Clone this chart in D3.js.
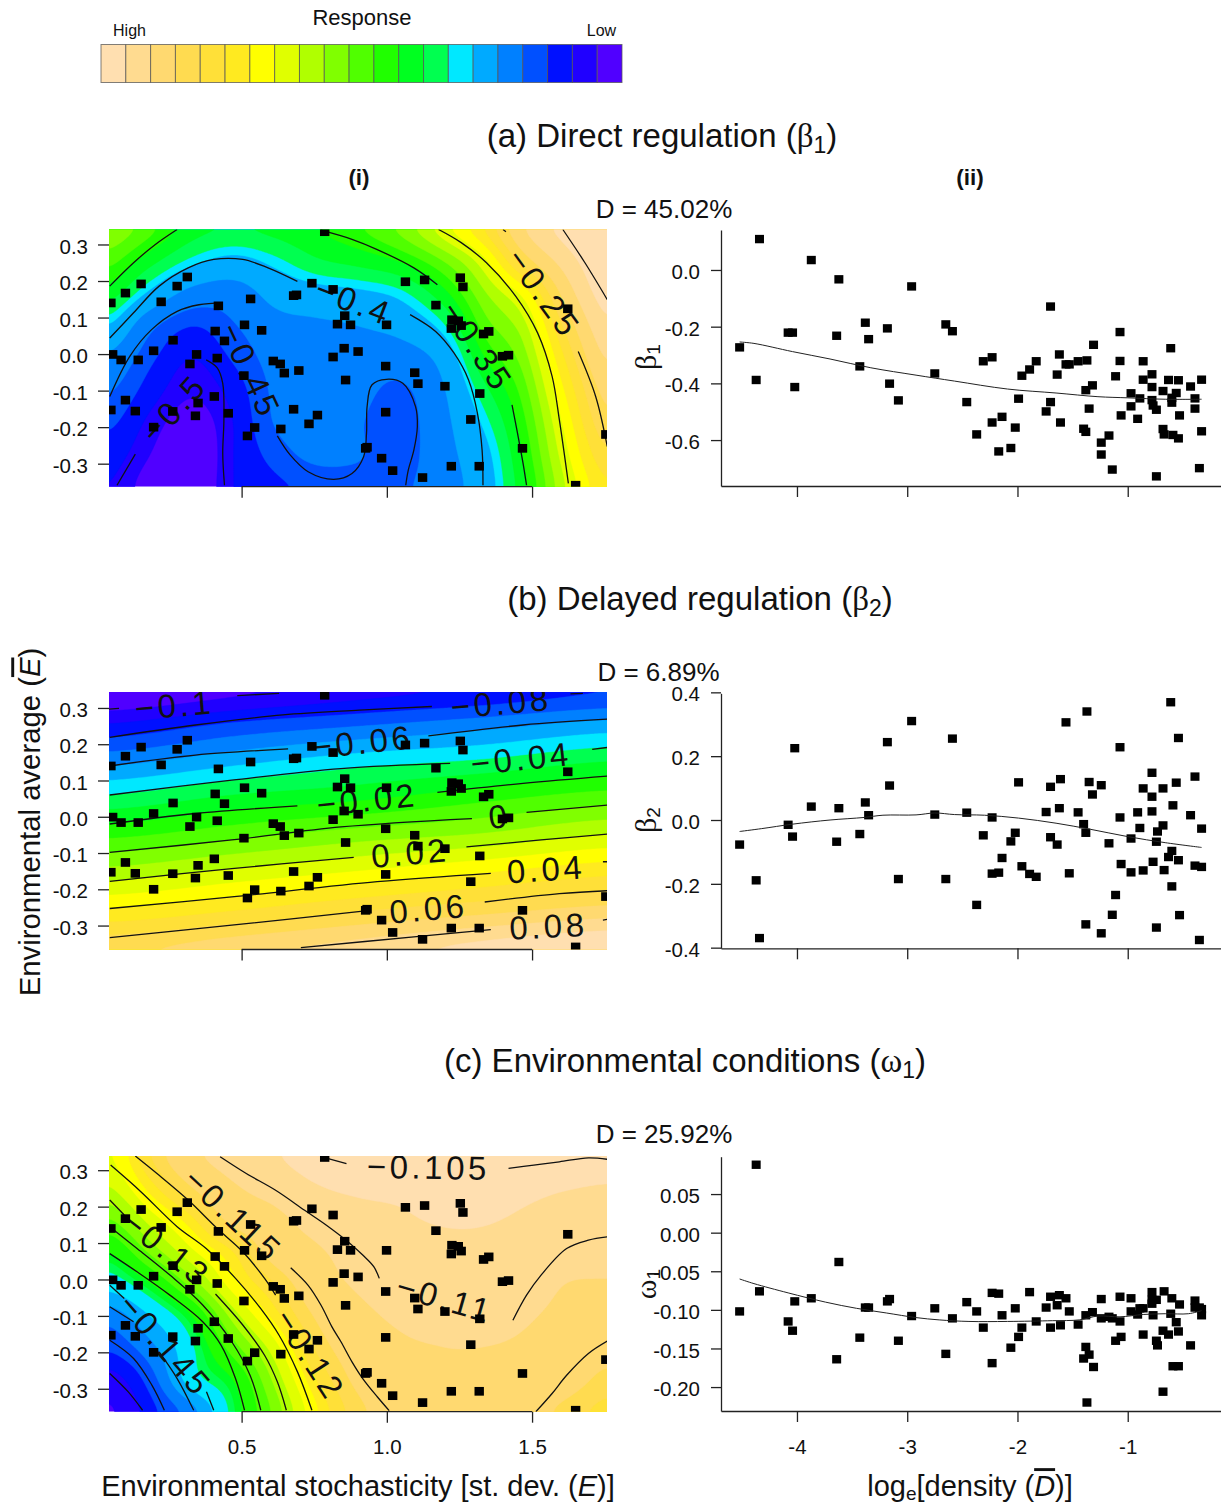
<!DOCTYPE html>
<html><head><meta charset="utf-8">
<script src="https://cdn.jsdelivr.net/npm/d3@7"></script>
<style>
html,body{margin:0;padding:0;background:#fff}
svg{display:block;font-family:"Liberation Sans",Arial,sans-serif;fill:#111}
</style></head><body><svg id="c" width="1221" height="1506"></svg>
<script>
// ---------- legend ----------
const palette=["#FFDFB0","#FFDB90","#FFD970","#FFDB50","#FFE038","#FFEA20","#FFFF00","#E0FF00","#B0FF00","#80FF00","#50FF00","#20FF00","#00FF20","#00FF50","#00E8FF","#00AAFF","#0080FF","#0050FF","#0010FF","#2000FF","#5000FF"];
// ---------- left panels: site coordinates ----------
const envSD=[.05,.10,.154,.223,.278,.313,.42,.409,.264,.197,.056,.085,.144,.345,.322,.416,.441,.51,.531,.569,.609,.633,.647,.697,.508,.679,.689,.742,.815,.855,.83,.875,.999,1.064,1.13,1.253,1.262,1.169,1.224,1.246,1.256,1.222,1.333,1.351,1.623,1.398,1.419,.815,.853,.901,.996,1.096,1.107,.858,1.2,1.32,.406,.35,.454,.10,.05,.134,.263,.341,.197,.679,.761,.732,.635,.545,.52,.996,1.289,.932,.927,.982,1.02,1.123,1.222,1.318,1.467,1.754,1.65,.786];
const envMean=[.14,.167,.192,.143,.186,.211,.132,.063,.038,.009,-.001,-.016,-.016,-.001,-.027,-.011,.036,.08,.151,.065,-.019,-.027,-.052,-.045,-.059,.16,.162,.194,.177,.105,.082,.08,.08,.198,.203,.209,.184,.134,.094,.091,.078,.07,.055,.062,.124,-.006,-.003,-.008,.016,.007,-.033,-.051,-.081,-.071,-.088,-.108,-.116,-.134,-.162,-.126,-.153,-.156,-.157,-.169,-.2,-.151,-.167,-.191,-.205,-.201,-.224,-.159,-.179,-.255,-.258,-.285,-.319,-.338,-.307,-.307,-.258,-.22,-.359,.335];
// ---------- response surfaces ----------
const fieldColsX=[.0434,.186,.329,.471,.614,.757,.900,1.043,1.186,1.329,1.471,1.614,1.758];
const fieldRowsA=[.341,.253,.166,.078,-.010,-.098,-.186,-.274,-.363];
const fieldA=[
[-.318,-.335,-.358,-.365,-.36,-.35,-.34,-.325,-.30,-.27,-.225,-.20,-.178],
[-.335,-.36,-.385,-.398,-.385,-.368,-.36,-.35,-.33,-.30,-.25,-.217,-.19],
[-.357,-.395,-.43,-.435,-.41,-.40,-.395,-.385,-.357,-.32,-.29,-.235,-.198],
[-.39,-.443,-.47,-.452,-.43,-.425,-.42,-.41,-.385,-.335,-.31,-.253,-.21],
[-.425,-.465,-.49,-.467,-.44,-.432,-.432,-.435,-.412,-.352,-.322,-.268,-.222],
[-.447,-.48,-.502,-.482,-.445,-.428,-.44,-.455,-.425,-.372,-.333,-.28,-.235],
[-.465,-.495,-.515,-.49,-.448,-.43,-.447,-.462,-.43,-.388,-.342,-.29,-.245],
[-.48,-.505,-.525,-.49,-.462,-.442,-.447,-.462,-.432,-.40,-.349,-.298,-.258],
[-.49,-.515,-.525,-.49,-.475,-.465,-.46,-.455,-.435,-.405,-.355,-.306,-.27]];
const bandIndexA=[0,3.5,7.5,12,14,15,15.2,16,17,18,19,20,21];
const bandValueA=[-.19,-.25,-.30,-.35,-.38,-.39,-.40,-.42,-.45,-.47,-.49,-.505,-.53];

const fieldColsB=[.0434,.471,.900,1.329,1.758];
const fieldRowsB=[.344,.25,.15,.05,-.05,-.15,-.25,-.366];
const fieldB=[
[-.112,-.103,-.0945,-.0885,-.081],
[-.088,-.077,-.07,-.063,-.055],
[-.0625,-.0525,-.0435,-.038,-.0295],
[-.0375,-.0275,-.0217,-.0125,-.0045],
[-.0125,-.0035,.005,.011,.0205],
[.013,.022,.03,.0385,.0465],
[.039,.0475,.057,.0645,.0715],
[.068,.077,.085,.0945,.102]];
const bandIndexB=[0,21];
const bandValueB=[.10,-.11];

const fieldRowsC=[.339,.253,.166,.078,-.010,-.098,-.186,-.274,-.363];
const fieldC=[
[-.1265,-.119,-.1125,-.1095,-.1075,-.105,-.104,-.1035,-.1035,-.1035,-.104,-.1045,-.105],
[-.129,-.1225,-.1165,-.112,-.11,-.1075,-.1065,-.1065,-.1065,-.1065,-.1065,-.107,-.1075],
[-.134,-.1275,-.122,-.115,-.1125,-.11,-.1085,-.1075,-.107,-.107,-.1075,-.1085,-.1095],
[-.14,-.133,-.1265,-.1215,-.1145,-.112,-.11,-.1085,-.108,-.108,-.1085,-.1095,-.1085],
[-.145,-.14,-.1325,-.1245,-.119,-.1135,-.111,-.11,-.1095,-.1095,-.1095,-.1115,-.112],
[-.152,-.1465,-.14,-.13,-.1225,-.116,-.1125,-.111,-.111,-.1105,-.111,-.1125,-.1135],
[-.156,-.151,-.1435,-.135,-.1272,-.1185,-.114,-.112,-.1115,-.1115,-.112,-.1135,-.115],
[-.162,-.155,-.1445,-.14,-.1305,-.1215,-.1155,-.113,-.1125,-.1125,-.113,-.1145,-.1175],
[-.166,-.158,-.1515,-.142,-.133,-.124,-.1175,-.1145,-.1135,-.1135,-.1145,-.1175,-.12]];
const bandIndexC=[0,1,2,3,4,5,6,8.5,10.5,12,14,14.5,16,17.5,19,21];
const bandValueC=[-.10,-.1072,-.1115,-.1165,-.119,-.1215,-.1235,-.13,-.135,-.14,-.143,-.145,-.15,-.155,-.16,-.17];

// ---------- contour traces ----------
const contoursA=[
[[1.606,.341],[1.682,.25],[1.759,.149]],
[[1.4,.341],[1.41,.335]],
[[1.659,.007],[1.719,-.116],[1.759,-.253]],
[[1.178,.341],[1.256,.305],[1.343,.25],[1.444,.158],[1.519,.058],[1.569,-.061],[1.594,-.18],[1.625,-.354]],
[[.046,.186],[.128,.25],[.203,.3],[.278,.341]],
[[.773,.339],[.88,.314],[.967,.286],[1.093,.236],[1.174,.19]],
[[1.431,-.139],[1.45,-.217],[1.469,-.299],[1.481,-.359]],
[[.046,.044],[.128,.113],[.216,.186],[.316,.236],[.404,.259],[.504,.259],[.591,.236],[.692,.199]],
[[1.08,.108],[1.168,.062],[1.231,.003],[1.281,-.07],[1.312,-.162],[1.328,-.263],[1.331,-.359]],
[[.046,-.116],[.115,-.006],[.19,.067],[.278,.117],[.353,.135],[.435,.14]],
[[.623,-.224],[.667,-.276],[.729,-.322],[.817,-.343],[.88,-.327],[.92,-.281],[.93,-.217],[.932,-.144],[.949,-.084],[.999,-.069],[1.055,-.08],[1.099,-.144],[1.105,-.199],[1.093,-.263],[1.074,-.317],[1.065,-.359]],
[[.071,-.359],[.134,-.274]],
[[.378,-.016],[.416,-.038],[.435,-.08],[.439,-.18],[.435,-.272],[.441,-.359]]];
const contoursB=[
[[.043,.297],[.078,.299]],[[.485,.334],[.629,.34]],
[[.046,.219],[.341,.253],[.642,.281],[.905,.294],[1.155,.304]],[[1.632,.339],[1.675,.34]],
[[.046,.14],[.341,.17],[.66,.187]],[[1.143,.223],[1.469,.253],[1.759,.269]],
[[.046,.06],[.466,.101],[.842,.133],[1.218,.147]],[[1.707,.186],[1.759,.191]],
[[.046,-.02],[.341,.009],[.692,.03]],[[1.174,.067],[1.469,.092],[1.759,.112]],
[[.046,-.098],[.466,-.064],[.842,-.028],[1.293,-.005]],[[1.481,.012],[1.759,.032]],
[[.046,-.178],[.466,-.143],[.886,-.112]],[[1.274,-.083],[1.531,-.064],[1.759,-.048]],
[[.046,-.253],[.466,-.221],[.967,-.179],[1.358,-.156]],[[1.744,-.124],[1.759,-.124]],
[[.046,-.333],[.466,-.299],[.942,-.258]],[[1.337,-.235],[1.594,-.212],[1.759,-.204]],
[[.704,-.361],[1.093,-.331],[1.358,-.311]],[[1.744,-.285],[1.759,-.283]]];
const contoursC=[
[[.773,.337],[.861,.318]],
[[1.419,.305],[1.506,.314],[1.594,.323],[1.694,.334],[1.759,.33]],
[[.426,.337],[.516,.291],[.617,.245],[.717,.19],[.792,.149],[.867,.103],[.917,.067],[.955,.035],[.974,.003]],
[[1.434,-.112],[1.481,-.043],[1.531,.012],[1.619,.085],[1.694,.108],[1.759,.117]],
[[1.513,-.363],[1.569,-.313],[1.619,-.263],[1.694,-.203],[1.759,-.169]],
[[.669,.032],[.729,-.016],[.773,-.07],[.811,-.13],[.842,-.171],[.88,-.226],[.917,-.272],[.967,-.322],[1.008,-.36]],
[[.134,.339],[.216,.286],[.316,.218],[.416,.14],[.504,.076],[.579,.003],[.617,-.043]],
[[.049,.314],[.153,.241],[.278,.145],[.378,.085],[.479,.003],[.566,-.08],[.629,-.153],[.692,-.253],[.742,-.359]],
[[.046,.218],[.096,.177]],
[[.41,-.04],[.504,-.125],[.579,-.208],[.623,-.281],[.654,-.359]],
[[.046,.145],[.14,.085],[.253,.012],[.366,-.07],[.466,-.171],[.529,-.263],[.566,-.359]],
[[.046,.071],[.14,.021],[.253,-.043],[.366,-.116],[.429,-.18],[.479,-.272],[.51,-.359]],
[[.046,-.016],[.096,-.052]],[[.379,-.308],[.404,-.359]],
[[.046,-.075],[.128,-.116]],[[.216,-.199],[.278,-.272],[.335,-.359]],
[[.046,-.167],[.128,-.217],[.191,-.29],[.234,-.359]],
[[.046,-.258],[.109,-.308],[.159,-.359]]];
// label text, x, y, rotation
const labelsA=[["\u22120.25",1.541,.167,54],["\u22120.35",1.312,.021,56],["\u22120.4",.887,.145,21],["\u22120.45",.531,-.045,65],["\u22120.5",.266,-.148,-48]];
const labelsB=[["\u22120.1",.268,.308,-5],["\u22120.08",1.393,.315,-5],["\u22120.06",.917,.207,-6],["\u22120.04",1.462,.161,-6],["\u22120.02",.932,.048,-6],["0",1.387,.002,-6],["0.02",1.08,-.099,-5],["0.04",1.548,-.144,-4],["0.06",1.143,-.253,-5],["0.08",1.556,-.301,-3]];
const labelsC=[["\u22120.105",1.143,.309,1],["\u22120.115",.472,.177,43],["\u22120.13",.243,.085,38],["\u22120.145",.238,-.18,49],["\u22120.12",.736,-.206,57],["\u22120.11",1.2,-.052,16]];

// ---------- right panels ----------
const xBeta1=[-4.52,-4.34,-4.37,-4.08,-4.04,-4.02,-3.87,-3.64,-3.62,-3.43,-3.38,-3.35,-3.18,-3.16,-3.08,-2.96,-2.75,-2.65,-2.59,-2.46,-2.37,-2.31,-2.23,-2.23,-2.17,-2.14,-2.06,-2.02,-1.99,-1.96,-1.89,-1.83,-1.74,-1.70,-1.70,-1.64,-1.62,-1.61,-1.56,-1.53,-1.45,-1.40,-1.38,-1.38,-1.37,-1.35,-1.32,-1.31,-1.24,-1.24,-1.17,-1.14,-1.11,-1.07,-1.07,-1.06,-.97,-.97,-.91,-.89,-.86,-.86,-.78,-.78,-.78,-.77,-.74,-.74,-.68,-.68,-.67,-.63,-.61,-.60,-.60,-.59,-.56,-.54,-.54,-.53,-.43,-.39,-.39,-.35,-.33,-.33];
const yBeta1=[-.273,.109,-.388,-.221,-.221,-.413,.035,-.232,-.033,-.34,-.186,-.244,-.206,-.401,-.46,-.058,-.365,-.192,-.216,-.466,-.58,-.322,-.308,-.538,-.64,-.518,-.628,-.556,-.454,-.373,-.351,-.322,-.499,-.129,-.466,-.369,-.298,-.538,-.333,-.333,-.322,-.56,-.571,-.424,-.319,-.489,-.407,-.264,-.609,-.651,-.584,-.704,-.375,-.219,-.321,-.513,-.435,-.481,-.525,-.453,-.322,-.387,-.368,-.413,-.459,-.478,-.493,-.728,-.427,-.561,-.58,-.388,-.276,-.451,-.468,-.582,-.434,-.389,-.594,-.513,-.411,-.453,-.489,-.699,-.387,-.569];
const xFitBeta1=[-4.52,-4.39,-4.04,-3.70,-3.33,-2.92,-2.57,-2.09,-1.65,-1.27,-1.0,-.66,-.33];
const yFitBeta1=[-.254,-.259,-.288,-.314,-.345,-.371,-.392,-.42,-.434,-.447,-.451,-.456,-.456];

const xBeta2=[-4.52,-4.37,-4.34,-4.08,-4.04,-4.02,-3.87,-3.64,-3.62,-3.43,-3.38,-3.35,-3.18,-3.16,-3.08,-2.96,-2.75,-2.65,-2.59,-2.46,-2.37,-2.31,-2.23,-2.23,-2.17,-2.14,-2.06,-2.02,-1.99,-1.96,-1.89,-1.83,-1.74,-1.70,-1.70,-1.64,-1.62,-1.61,-1.56,-1.53,-1.45,-1.40,-1.38,-1.38,-1.37,-1.35,-1.32,-1.24,-1.24,-1.17,-1.14,-1.11,-1.07,-1.07,-1.06,-.97,-.97,-.91,-.89,-.86,-.86,-.78,-.78,-.78,-.77,-.74,-.74,-.73,-.68,-.68,-.67,-.63,-.61,-.60,-.60,-.59,-.56,-.54,-.54,-.53,-.43,-.39,-.39,-.35,-.33,-.33];
const yBeta2=[-.077,-.189,-.37,-.015,-.052,.225,.042,-.068,.037,-.044,.055,.015,.244,.108,-.185,.31,.017,-.185,.255,.023,-.266,-.048,.008,-.168,-.165,-.119,-.067,-.04,.118,-.145,-.169,-.178,.025,.104,-.054,-.077,.037,.128,.306,-.167,.024,-.013,-.04,-.327,.34,.119,.08,.109,-.355,-.073,-.297,-.235,.008,.228,-.138,-.058,-.164,.024,-.025,.099,-.158,.148,.073,.027,-.131,-.068,-.337,-.036,-.017,.099,-.157,-.116,.369,-.097,-.208,.046,.117,.257,-.126,-.298,.015,.136,-.143,-.376,-.027,-.147];
const xFitBeta2=[-4.52,-4.32,-4.04,-3.70,-3.39,-3.22,-2.92,-2.75,-2.57,-2.30,-1.99,-1.65,-1.34,-1,-.66,-.33];
const yFitBeta2=[-.036,-.027,-.013,0,.008,.015,.016,.022,.017,.015,.006,-.010,-.029,-.052,-.071,-.086];

const xOmega1=[-4.52,-4.37,-4.34,-4.08,-4.04,-4.02,-3.87,-3.64,-3.62,-3.43,-3.38,-3.35,-3.18,-3.16,-3.08,-2.96,-2.75,-2.65,-2.59,-2.46,-2.37,-2.31,-2.23,-2.23,-2.17,-2.14,-2.06,-2.02,-1.99,-1.96,-1.89,-1.83,-1.74,-1.70,-1.70,-1.64,-1.62,-1.61,-1.56,-1.53,-1.45,-1.40,-1.38,-1.38,-1.37,-1.35,-1.32,-1.31,-1.24,-1.24,-1.17,-1.14,-1.11,-1.07,-1.07,-1.06,-.97,-.97,-.91,-.89,-.86,-.86,-.78,-.78,-.78,-.77,-.74,-.74,-.73,-.68,-.68,-.67,-.63,-.61,-.60,-.59,-.56,-.54,-.54,-.53,-.43,-.39,-.39,-.35,-.33,-.33];
const yOmega1=[-.102,.088,-.076,-.115,-.127,-.089,-.085,-.164,-.038,-.136,-.097,-.097,-.089,-.086,-.14,-.108,-.098,-.157,-.111,-.09,-.102,-.123,-.078,-.169,-.079,-.107,-.149,-.098,-.135,-.123,-.077,-.115,-.097,-.083,-.123,-.094,-.081,-.12,-.085,-.102,-.119,-.163,-.107,-.148,-.22,-.158,-.103,-.174,-.086,-.111,-.109,-.111,-.14,-.083,-.115,-.135,-.085,-.102,-.106,-.098,-.098,-.132,-.077,-.087,-.092,-.107,-.087,-.14,-.146,-.127,-.206,-.076,-.132,-.105,-.085,-.173,-.116,-.128,-.173,-.093,-.146,-.088,-.097,-.097,-.099,-.107];
const xFitOmega1=[-4.52,-4.39,-4.08,-3.74,-3.46,-3.19,-2.92,-2.71,-2.44,-2.09,-1.68,-1.44,-1.27,-1.07,-.86,-.66,-.45,-.33];
const yFitOmega1=[-.060,-.066,-.078,-.09,-.098,-.104,-.110,-.113,-.115,-.115,-.114,-.113,-.108,-.109,-.106,-.105,-.105,-.101];

const ticksEnvMean=[.3,.2,.1,0,-.1,-.2,-.3];
const ticksEnvSD=[.5,1,1.5];
const ticksDensity=[-4,-3,-2,-1];
const ticksBeta1=[0,-.2,-.4,-.6];
const ticksBeta2=[.4,.2,0,-.2,-.4];
const ticksOmega1=[.05,0,-.05,-.10,-.15,-.20];

// ---------- drawing ----------
const svg=d3.select("#c");
const FS=20.5;
function label(x,y,t,o={}){
  const e=svg.append("text").attr("x",x).attr("y",y).attr("dy",".35em")
    .attr("text-anchor",o.anchor||"middle").attr("font-size",o.size||FS).attr("fill","#111");
  if(o.weight)e.attr("font-weight",o.weight);
  if(o.rotate)e.attr("transform",`rotate(${o.rotate} ${x} ${y})`);
  return e;
}
function part(e,t,o={}){
  const s=e.append("tspan").text(t);
  if(o.serif)s.attr("font-family","'Liberation Serif',serif");
  if(o.italic)s.attr("font-style","italic");
  if(o.sub)s.attr("baseline-shift",o.shift||"-5px").attr("font-size",o.sub);
  if(o.over)s.style("text-decoration","overline");
  return s;
}
// legend
const legendX=d3.scaleBand().domain(d3.range(palette.length)).range([101,622]);
svg.append("g").selectAll("rect").data(palette).join("rect")
  .attr("x",(d,i)=>legendX(i)).attr("y",44.5).attr("width",legendX.bandwidth()).attr("height",38)
  .attr("fill",d=>d).attr("stroke","#555").attr("stroke-opacity",.75).attr("stroke-width",1);
label(362,17,"",{size:22}).text("Response");
label(129.5,30,"",{size:16}).text("High");
label(601.5,30,"",{size:16}).text("Low");

label(359,177,"",{size:22.5,weight:"bold"}).text("(i)");
label(970,177,"",{size:22.5,weight:"bold"}).text("(ii)");

function title(cx,y,head,sym,sub){
  const e=label(cx,y,"",{size:33});
  part(e,head+" (");part(e,sym,{serif:true});part(e,sub,{sub:23,shift:"-6px"});part(e,")");
}
title(662,135,"(a) Direct regulation","\u03B2","1");
title(700,598,"(b) Delayed regulation","\u03B2","2");
title(685,1060,"(c) Environmental conditions","\u03C9","1");
label(664,209,"",{size:26}).text("D = 45.02%");
label(658.5,672,"",{size:26}).text("D = 6.89%");
label(664,1134,"",{size:26}).text("D = 25.92%");

const fmt=s=>d=>d3.format(s)(d).replace("\u2212","-");
const sampleNX=250,sampleNY=130;
function smooth(a,w,h,passes){
  let s=Float64Array.from(a);
  for(let p=0;p<passes;p++){
    const o=new Float64Array(w*h);
    for(let j=0;j<h;j++)for(let i=0;i<w;i++){
      let sum=0,n=0;
      for(let dj=-2;dj<=2;dj++)for(let di=-2;di<=2;di++){
        const jj=Math.max(0,Math.min(h-1,j+dj)),ii=Math.max(0,Math.min(w-1,i+di));
        sum+=s[jj*w+ii];n++;
      }
      o[j*w+i]=sum/n;
    }
    s=o;
  }
  return s;
}
function upsample(grid,xs,ys){
  const fx=d3.scaleLinear().domain(xs).range(d3.range(xs.length));
  const fy=d3.scaleLinear().domain(ys).range(d3.range(ys.length));
  const cr=(a,b,c,d,t)=>b+.5*t*(c-a+t*(2*a-5*b+4*c-d+t*(3*(b-c)+d-a)));
  const R=grid.length,C=grid[0].length,out=new Float64Array(sampleNX*sampleNY);
  const at=(r,c)=>grid[Math.max(0,Math.min(R-1,r))][Math.max(0,Math.min(C-1,c))];
  for(let j=0;j<sampleNY;j++){
    const yv=ys[0]+(ys[R-1]-ys[0])*j/(sampleNY-1),gy=fy(yv),r=Math.min(R-2,Math.floor(gy)),ty=gy-r;
    for(let i=0;i<sampleNX;i++){
      const xv=xs[0]+(xs[C-1]-xs[0])*i/(sampleNX-1),gx=fx(xv),c=Math.min(C-2,Math.floor(gx)),tx=gx-c;
      const col=[-1,0,1,2].map(k=>cr(at(r+k,c-1),at(r+k,c),at(r+k,c+1),at(r+k,c+2),tx));
      out[j*sampleNX+i]=cr(col[0],col[1],col[2],col[3],ty);
    }
  }
  return smooth(out,sampleNX,sampleNY,3);
}
function heatPanel(id,top,bottom,yDom,grid,cols,rows,bandI,bandV,traces,labels){
  const x=d3.scaleLinear().domain([.0434,1.758]).range([109,607]);
  const y=d3.scaleLinear().domain(yDom).range([bottom,top]);
  const g=svg.append("g");
  const clip=svg.append("clipPath").attr("id",id);
  clip.append("rect").attr("x",109).attr("y",top).attr("width",498).attr("height",bottom-top);
  const p=g.append("g").attr("clip-path",`url(#${id})`);
  p.append("rect").attr("x",109).attr("y",top).attr("width",498).attr("height",bottom-top).attr("fill",palette[20]);
  const idxToVal=d3.scaleLinear().domain(bandI).range(bandV);
  const thresholds=d3.range(20,0,-1).map(i=>idxToVal(i));
  const vals=upsample(grid,cols,rows);
  const cs=d3.contours().size([sampleNX,sampleNY]).thresholds(thresholds)(Array.from(vals));
  const x0=cols[0],dx=(cols[cols.length-1]-cols[0])/(sampleNX-1),y0=rows[0],dy=(rows[rows.length-1]-rows[0])/(sampleNY-1);
  const path=d3.geoPath(d3.geoTransform({point(a,b){this.stream.point(x(x0+(a-.5)*dx),y(y0+(b-.5)*dy));}}));
  p.selectAll("path.band").data(cs).join("path").attr("class","band")
    .attr("d",path).attr("fill",(d,i)=>palette[19-i]).attr("stroke",(d,i)=>palette[19-i]).attr("stroke-width",.4);
  const line=d3.line().x(d=>x(d[0])).y(d=>y(d[1])).curve(d3.curveCatmullRom);
  p.selectAll("path.ct").data(traces).join("path").attr("class","ct").attr("d",line)
    .attr("fill","none").attr("stroke","#111").attr("stroke-width",1.3);
  p.selectAll("text").data(labels).join("text").text(d=>d[0])
    .attr("transform",d=>`translate(${x(d[1])},${y(d[2])}) rotate(${d[3]})`)
    .attr("text-anchor","middle").attr("dy",".36em").attr("font-size",33).attr("letter-spacing",3.5).attr("fill","#111");
  p.selectAll("rect.pt").data(envSD).join("rect").attr("class","pt")
    .attr("x",d=>x(d)-4.7).attr("y",(d,i)=>y(envMean[i])-4.35).attr("width",9.4).attr("height",8.7).attr("fill","#000");
  const ax=g.append("g").attr("transform",`translate(109,0)`).call(d3.axisLeft(y).tickValues(ticksEnvMean).tickFormat(fmt(".1f")).tickSize(11).tickSizeOuter(0).tickPadding(10));
  ax.select(".domain").remove();
  ax.selectAll("line").attr("stroke","#222").attr("stroke-width",1.3);
  ax.selectAll("text").attr("font-size",FS).attr("font-family","'Liberation Sans',Arial,sans-serif").attr("fill","#111").attr("y",2);
  const bx=g.append("g").attr("transform",`translate(0,${bottom})`).call(d3.axisBottom(x).tickValues(ticksEnvSD).tickSize(11).tickSizeOuter(0).tickPadding(17).tickFormat(id==="cpC"?fmt(".1f"):()=>""));
  bx.select(".domain").attr("d",`M${x(.5)},0H${x(1.5)}`).attr("stroke","#222").attr("stroke-width",1.3);
  bx.selectAll("line").attr("stroke","#222").attr("stroke-width",1.3);
  bx.selectAll("text").attr("font-size",FS).attr("font-family","'Liberation Sans',Arial,sans-serif").attr("fill","#111");
}
heatPanel("cpA",229.5,486.7,[-.363,.341],fieldA,fieldColsX,fieldRowsA,bandIndexA,bandValueA,contoursA,labelsA);
heatPanel("cpB",692,949.5,[-.366,.344],fieldB,fieldColsB,fieldRowsB,bandIndexB,bandValueB,contoursB,labelsB);
heatPanel("cpC",1156,1411.7,[-.363,.339],fieldC,fieldColsX,fieldRowsC,bandIndexC,bandValueC,contoursC,labelsC);

function scatterPanel(top,bottom,yDom,xs,ys,fx,fy,ticks,tf,showX){
  const x=d3.scaleLinear().domain([-4.689,-.154]).range([721,1221]);
  const y=d3.scaleLinear().domain(yDom).range([bottom,top]);
  const g=svg.append("g");
  g.selectAll("rect").data(xs).join("rect").attr("x",d=>x(d)-4.5).attr("y",(d,i)=>y(ys[i])-4.2)
    .attr("width",9).attr("height",8.4).attr("fill","#000");
  g.append("path").datum(fx).attr("d",d3.line().x(d=>x(d)).y((d,i)=>y(fy[i])).curve(d3.curveCatmullRom))
    .attr("fill","none").attr("stroke","#222").attr("stroke-width",1);
  const ax=g.append("g").attr("transform","translate(721,0)").call(d3.axisLeft(y).tickValues(ticks).tickFormat(fmt(tf)).tickSize(10).tickSizeOuter(0).tickPadding(11));
  const bx=g.append("g").attr("transform",`translate(0,${bottom})`).call(d3.axisBottom(x).tickValues(ticksDensity).tickSize(11).tickSizeOuter(0).tickPadding(17).tickFormat(showX?fmt("d"):()=>""));
  [ax,bx].forEach(a=>{a.selectAll("line,.domain").attr("stroke","#222").attr("stroke-width",1.3);
    a.selectAll("text").attr("font-size",FS).attr("font-family","'Liberation Sans',Arial,sans-serif").attr("fill","#111");});
  ax.selectAll("text").attr("y",2);
}
scatterPanel(230,486,[-.762,.141],xBeta1,yBeta1,xFitBeta1,yFitBeta1,ticksBeta1,".1f",false);
scatterPanel(693.3,948.3,[-.402,.397],xBeta2,yBeta2,xFitBeta2,yFitBeta2,ticksBeta2,".1f",false);
scatterPanel(1156.7,1411,[-.231,.0984],xOmega1,yOmega1,xFitOmega1,yFitOmega1,ticksOmega1,".2f",true);

function yName(cy,sym,sub,cx){
  const e=label(cx,cy,"",{size:30,rotate:-90});
  part(e,sym,{serif:true});part(e,sub,{sub:19,shift:"-4px"});
}
yName(357,"\u03B2","1",645);
yName(820,"\u03B2","2",645);
yName(1284,"\u03C9","1",645);

let e=label(30,822,"",{size:29.3,rotate:-90});
part(e,"Environmental average (");part(e,"E",{italic:true,over:true});part(e,")");
e=label(358,1486,"",{size:29});
part(e,"Environmental stochasticity [st. dev. (");part(e,"E",{italic:true});part(e,")]");
e=label(970,1486,"",{size:29});
part(e,"log");part(e,"e",{sub:19,shift:"-4px"});part(e,"[density (");part(e,"D",{italic:true,over:true});part(e,")]");
</script></body></html>
